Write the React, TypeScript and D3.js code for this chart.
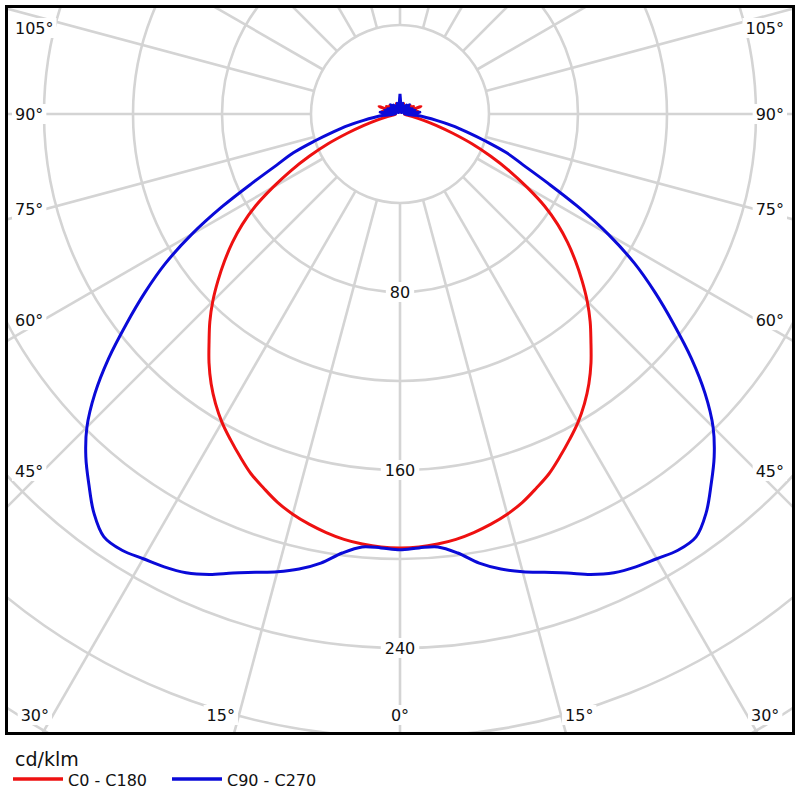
import React from "react";
import * as d3 from "d3";

// Polar photometric diagram, cd/klm
const mainAngles = [0, 2.5, 5, 7.5, 10, 12.5, 15, 17.5, 20, 22.5, 25, 27.5, 30, 32.5, 35, 37.5, 40, 42.5, 45, 47.5, 50, 52.5, 55, 57.5, 60, 62.5, 65, 67.5, 70, 72.5, 75, 77.5, 80];
const c0c180 = [195, 194.8, 194, 192.8, 191, 188.8, 186.2, 183, 179, 175, 170, 165, 160, 154.3, 148, 141, 133.5, 126.5, 119, 111, 103, 95, 86.5, 77, 66, 55.5, 45, 35, 25, 17, 11, 6.5, 4];
const c90c270 = [195.8, 195.2, 195.3, 199, 205, 209.5, 213, 216, 219.5, 224, 227.5, 229.5, 230.8, 232.5, 232, 226, 217.5, 209, 199, 186, 171, 155, 140, 125, 108, 90, 73, 60, 51, 40, 31, 24, 17];
const tailAngles = [85, 90, 95, 100, 105, 110, 115, 120, 125, 130, 135, 140, 145, 150, 155, 160, 165, 170, 175, 180];
const c0c180Tail = [2, 7, 2, 8, 3, 10, 2, 7, 2, 6, 1, 5, 2, 4, 1, 5, 2, 4, 1, 3];
const c90c270Tail = [8, 2, 9, 2, 7, 2, 6, 1, 5, 2, 6, 1, 5, 2, 4, 1, 5, 2, 4, 9];

const ringValues = [40, 80, 120, 160, 200, 240, 280, 320, 360, 400];
const ringLabels = [80, 160, 240];
const spokeAngles = d3.range(0, 360, 15);
const sideLabelAngles = [45, 60, 75, 90, 105];
const bottomLabelAngles = [0, 15, 30];
const unitLabel = "cd/klm";
const seriesNames = ["C0 - C180", "C90 - C270"];
const seriesColors = ["#ee1111", "#0a0ad8"];

const W = 800;
const H = 800;
const CX = 400;
const CY = 114;
const FRAME = { x0: 6.5, y0: 6.5, x1: 793.5, y1: 733.5 };
const rScale = d3.scaleLinear().domain([0, 80]).range([0, 178]);
const FONT = "'DejaVu Sans', Verdana, sans-serif";
const GRID = "#d4d4d4";

function polar(gDeg: number, v: number): [number, number] {
  const g = (gDeg * Math.PI) / 180;
  const r = rScale(v);
  return [CX + r * Math.sin(g), CY + r * Math.cos(g)];
}

function buildPath(main: number[], tail: number[]) {
  const half = [
    ...mainAngles.map((a, i) => [a, main[i]]),
    ...tailAngles.map((a, i) => [a, tail[i]]),
  ];
  const full = [
    ...half.slice(1).reverse().map(([a, v]) => [-a, v]),
    ...half,
  ];
  const line = d3.line<number[]>().curve(d3.curveCatmullRom.alpha(0.5));
  return line(full.map(([a, v]) => polar(a, v))) || "";
}

function labelWidth(t: string, fs: number) {
  let w = 0;
  for (const ch of t) w += ch === "°" ? 0.5 * fs : 0.636 * fs;
  return w;
}

export default function App() {
  const fs = 16;
  const sideInset = CX - 43;
  const labels: { text: string; x: number; y: number; anchor: string }[] = [];
  sideLabelAngles.forEach((g) => {
    const y = Math.max(28, CY + sideInset * Math.tan(((90 - g) * Math.PI) / 180));
    labels.push({ text: `${g}°`, x: 15, y, anchor: "start" });
    labels.push({ text: `${g}°`, x: 784, y, anchor: "end" });
  });
  const bottomY = 715;
  bottomLabelAngles.forEach((g) => {
    const dx = (bottomY - CY) * Math.tan((g * Math.PI) / 180);
    if (g === 0) {
      labels.push({ text: `${g}°`, x: CX, y: bottomY, anchor: "middle" });
    } else {
      labels.push({ text: `${g}°`, x: CX - dx - 4, y: bottomY, anchor: "end" });
      labels.push({ text: `${g}°`, x: CX + dx + 4, y: bottomY, anchor: "start" });
    }
  });

  const rMax = rScale(ringValues[ringValues.length - 1]);

  return (
    <svg
      width={W}
      height={H}
      style={{ position: "absolute", left: 0, top: 0, background: "#fff" }}
      fontFamily={FONT}
    >
      <defs>
        <clipPath id="frameClip">
          <rect x={FRAME.x0} y={FRAME.y0} width={FRAME.x1 - FRAME.x0} height={FRAME.y1 - FRAME.y0} />
        </clipPath>
      </defs>
      <rect x={0} y={0} width={W} height={H} fill="#fff" />
      <g clipPath="url(#frameClip)">
        {ringValues.map((v) => (
          <circle key={v} cx={CX} cy={CY} r={rScale(v)} fill="none" stroke={GRID} strokeWidth={2.6} />
        ))}
        {spokeAngles.map((g) => {
          const [x1, y1] = polar(g, ringValues[0]);
          const r = rMax;
          const gr = (g * Math.PI) / 180;
          return (
            <line
              key={g}
              x1={x1}
              y1={y1}
              x2={CX + r * Math.sin(gr)}
              y2={CY + r * Math.cos(gr)}
              stroke={GRID}
              strokeWidth={2.6}
            />
          );
        })}
        {ringLabels.map((v) => {
          const [x, y] = polar(0, v);
          const w = labelWidth(String(v), fs) + 8;
          return (
            <g key={v}>
              <rect x={x - w / 2} y={y - 10} width={w} height={20} fill="#fff" />
              <text x={x} y={y} textAnchor="middle" dominantBaseline="central" fontSize={fs} fill="#111">
                {v}
              </text>
            </g>
          );
        })}
        {labels.map((l, i) => {
          const w = labelWidth(l.text, fs) + 6;
          const rx = l.anchor === "start" ? l.x - 3 : l.anchor === "end" ? l.x - w + 3 : l.x - w / 2;
          return (
            <g key={i}>
              <rect x={rx} y={l.y - 10} width={w} height={20} fill="#fff" />
              <text x={l.x} y={l.y} textAnchor={l.anchor} dominantBaseline="central" fontSize={fs} fill="#111">
                {l.text}
              </text>
            </g>
          );
        })}
        <path d={buildPath(c0c180, c0c180Tail)} fill="none" stroke={seriesColors[0]} strokeWidth={3} strokeLinejoin="round" />
        <path d={buildPath(c90c270, c90c270Tail)} fill="none" stroke={seriesColors[1]} strokeWidth={3} strokeLinejoin="round" />
      </g>
      <rect
        x={FRAME.x0}
        y={FRAME.y0}
        width={FRAME.x1 - FRAME.x0}
        height={FRAME.y1 - FRAME.y0}
        fill="none"
        stroke="#000"
        strokeWidth={3}
      />
      <text x={15} y={766} fontSize={19} fill="#111">
        {unitLabel}
      </text>
      {seriesNames.map((n, i) => {
        const x0 = i === 0 ? 13 : 172;
        return (
          <g key={n}>
            <line x1={x0} x2={x0 + 50} y1={779} y2={779} stroke={seriesColors[i]} strokeWidth={3.5} />
            <text x={x0 + 55} y={786} fontSize={16} fill="#111">
              {n}
            </text>
          </g>
        );
      })}
    </svg>
  );
}
